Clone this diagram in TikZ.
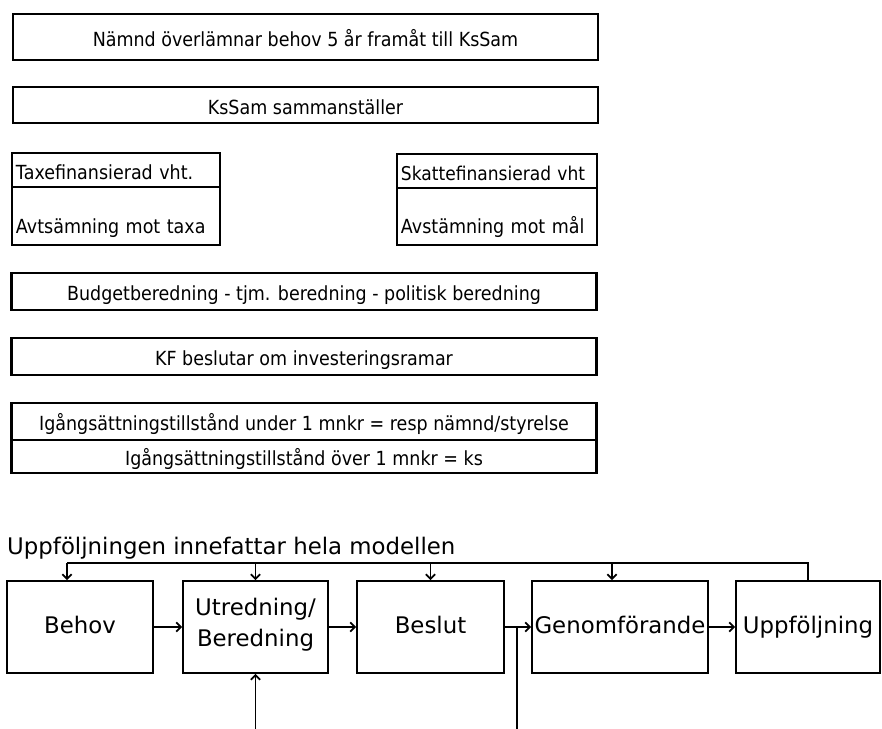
\documentclass[tikz,border=0pt]{standalone}
\usepackage{fontspec}
\newfontfamily\tahoma[FakeStretch=0.9]{DejaVu Sans}
\newfontfamily\verdana{DejaVu Sans}
\usetikzlibrary{calc,arrows.meta}

\begin{document}
\begin{tikzpicture}[x=0.03cm, y=-0.03cm,
  boite/.style={draw, rectangle, line width=2.4pt, inner sep=0pt,
    minimum width=17.55cm, text height=18pt, text depth=2pt,
    font=\tahoma\fontsize{16.6}{20}\selectfont},
  demi/.style={draw, rectangle, line width=2.4pt, inner xsep=0.12cm,
    inner ysep=0pt, align=left, text height=18pt, text depth=2pt,
    font=\tahoma\fontsize{16.6}{20}\selectfont},
  etape/.style={draw, rectangle, line width=1.6pt, inner sep=0pt,
    minimum width=4.38cm, minimum height=2.76cm, align=center,
    execute at begin node=\strut,
    font=\verdana\fontsize{19.5}{27}\selectfont},
  fleche/.style={-{Straight Barb[length=4pt,width=8pt]}, line width=1.4pt}]

\useasboundingbox (0,0) rectangle (882,729);

\node[boite, minimum height=1.38cm] (N) at (305.5,37)
{Nämnd överlämnar behov 5 år framåt till KsSam};%

\node[boite, minimum height=1.08cm] (K) at (305.5,105)
{KsSam sammanställer};%

\node[demi, text width=6cm, minimum height=1.02cm] (Ta) at (116,170)
{Taxefinansierad vht.};%

\node[demi, text width=6cm, minimum height=1.74cm, text height=1.1cm] (Tb) at (116,216)
{Avtsämning mot taxa};%

\node[demi, text width=5.76cm, minimum height=1.02cm,
  font=\tahoma\fontsize{16.2}{20}\selectfont] (Sa) at (497,171)
{\mbox{Skattefinansierad vht}};%

\node[demi, text width=5.76cm, minimum height=1.71cm, text height=1.1cm] (Sb) at (497,216.5)
{Avstämning mot mål};%

\node[boite, minimum height=1.11cm] (B) at (304,291.5)
{Budgetberedning - tjm. beredning - politisk beredning};%

\node[boite, minimum height=1.11cm] (F) at (304,356.5)
{KF beslutar om investeringsramar};%

\node[boite, minimum height=1.11cm] (Iu) at (304,421.5)
{Igångsättningstillstånd under 1 mnkr = resp nämnd/styrelse};%

\node[boite, minimum height=0.99cm] (Io) at (304,456.5)
{Igångsättningstillstånd över 1 mnkr = ks};%


\node[anchor=west, inner sep=0pt, font=\verdana\fontsize{19.5}{22}\selectfont] (R) at (7,548)
{Uppföljningen innefattar hela modellen};%

\node[etape] (Be) at (80,627)
{Behov};%

\node[etape, minimum width=4.35cm] (U) at (255.5,627)
{Utredning/\\Beredning};%

\node[etape, minimum width=4.41cm] (Bs) at (430.5,627)
{Beslut};%

\node[etape, minimum width=5.28cm] (G) at (620,627)
{Genomförande};%

\node[etape, minimum width=4.32cm] (Up) at (808,627)
{Uppföljning};%

\coordinate (H) at (67,563);
\coordinate (Hg) at (612,563);
\coordinate (bas) at (0,729);
\coordinate (J) at ($(Bs.east)!0.46!(G.west)$);

\draw[fleche] (Be) -- (U);
\draw[fleche] (U) -- (Bs);
\draw[fleche] (Bs) -- (G);
\draw[fleche] (G) -- (Up);

\draw[line width=1.4pt] (Up.north) -- (Up.north |- H) -- (H);
\draw[fleche] (H) -- (H |- Be.north);
\draw[fleche] (U.north |- H) -- (U.north);
\draw[fleche] (Bs.north |- H) -- (Bs.north);
\draw[fleche] (Hg) -- (Hg |- G.north);

\draw[fleche] (U.south |- bas) -- (U.south);
\draw[line width=1.4pt] (J |- bas) -- (J);

\end{tikzpicture}
\end{document}
